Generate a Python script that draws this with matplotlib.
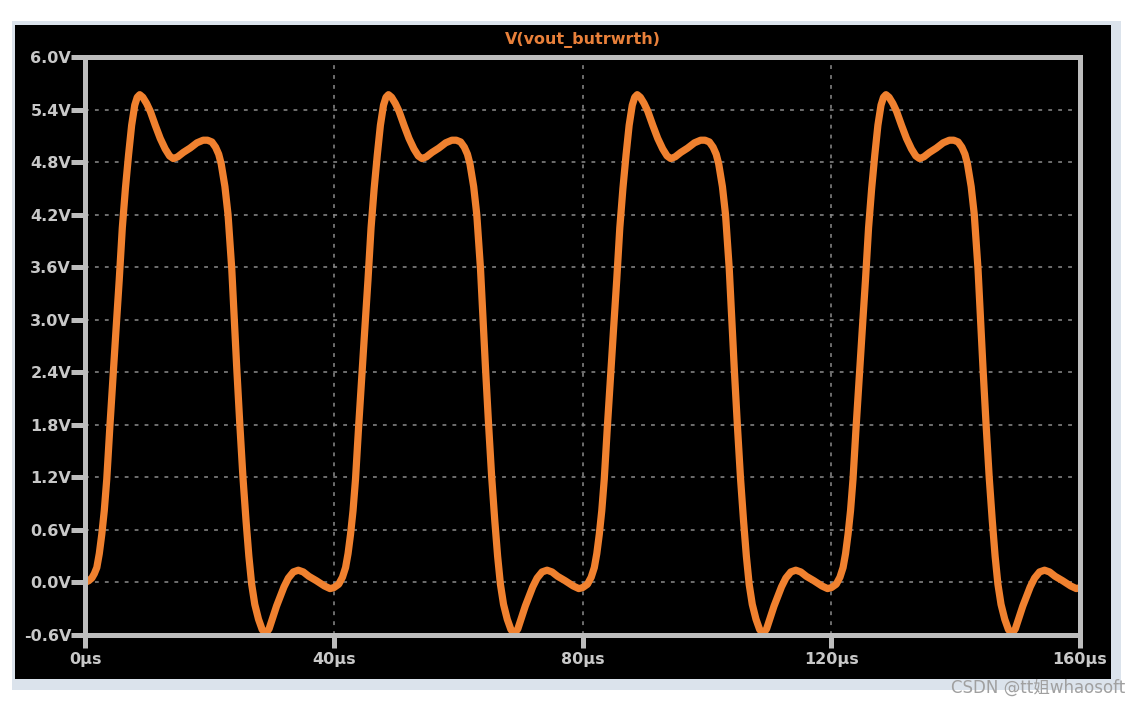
import numpy as np
import matplotlib.pyplot as plt
from matplotlib.patches import Rectangle

# one period of the waveform (µs, V)
t_cycle = [0.0, 0.8, 1.4, 1.9, 2.3, 2.7, 3.1, 3.5, 4.0, 4.5, 5.0, 5.5, 6.0, 6.5,
           7.0, 7.5, 8.0, 8.4, 8.8, 9.3, 9.9, 10.5, 11.3, 12.1, 12.9, 13.6, 14.2,
           14.9, 15.8, 16.9, 18.0, 19.0, 19.7, 20.4, 21.0, 21.5, 21.9, 22.5, 23.0,
           23.6, 24.0, 24.4, 24.9, 25.4, 25.9, 26.35, 26.8, 27.3, 27.9, 28.5, 29.1,
           29.6, 30.2, 30.8, 31.4, 32.0, 32.7, 33.5, 34.3, 35.1, 36.0, 37.2, 38.5,
           39.4]
v_cycle = [-0.06, -0.02, 0.06, 0.17, 0.33, 0.55, 0.82, 1.18, 1.78, 2.35, 2.90, 3.45,
           4.05, 4.50, 4.88, 5.22, 5.45, 5.54, 5.57, 5.54, 5.47, 5.38, 5.22, 5.07,
           4.95, 4.87, 4.84, 4.86, 4.91, 4.96, 5.02, 5.05, 5.05, 5.03, 4.97, 4.89,
           4.78, 4.52, 4.20, 3.58, 3.02, 2.45, 1.80, 1.20, 0.70, 0.30, -0.02, -0.25,
           -0.42, -0.54, -0.58, -0.53, -0.40, -0.27, -0.16, -0.05, 0.05, 0.12, 0.14,
           0.12, 0.07, 0.02, -0.04, -0.07]

# the very first rise starts flat from 0 V
t_start = [0.0, 0.6, 1.1, 1.5]
v_start = [0.0, 0.02, 0.05, 0.10]
t_end, v_end = 160.0, -0.06

period = 40.0
n_cycles = 4

x_ticks = [0, 40, 80, 120, 160]
x_labels = ['0µs', '40µs', '80µs', '120µs', '160µs']
y_ticks = [-0.6, 0.0, 0.6, 1.2, 1.8, 2.4, 3.0, 3.6, 4.2, 4.8, 5.4, 6.0]
y_labels = ['-0.6V', '0.0V', '0.6V', '1.2V', '1.8V', '2.4V', '3.0V', '3.6V',
            '4.2V', '4.8V', '5.4V', '6.0V']

# build the full trace from the repeated period
tc = np.array(t_cycle)
vc = np.array(v_cycle)
t_all = list(t_start)
v_all = list(v_start)
for k in range(n_cycles):
    sel = tc > 1.8 if k == 0 else tc >= 0
    t_all += list(tc[sel] + k * period)
    v_all += list(vc[sel])
t_all.append(t_end)
v_all.append(v_end)

W, H = 1140, 706
fig = plt.figure(figsize=(W / 100, H / 100), dpi=100)
fig.patch.set_facecolor('white')

# window frame and black plot pane
fig.patches.append(Rectangle((12 / W, 1 - 690 / H), (1121 - 12) / W, (690 - 21) / H,
                             transform=fig.transFigure, facecolor='#dbe3ec',
                             edgecolor='none', zorder=-2))
fig.patches.append(Rectangle((15 / W, 1 - 679 / H), (1111 - 15) / W, (679 - 25) / H,
                             transform=fig.transFigure, facecolor='black',
                             edgecolor='none', zorder=-1))

ax = fig.add_axes([85 / W, 1 - 635 / H, 995 / W, 578 / H])
ax.set_facecolor('black')
ax.plot(t_all, v_all, color='#f0812f', lw=5.2, solid_capstyle='round',
        solid_joinstyle='round', zorder=2.2)

ax.set_xlim(0, 160)
ax.set_ylim(-0.6, 6.0)
ax.set_xticks(x_ticks)
ax.set_xticklabels(x_labels)
ax.set_yticks(y_ticks)
ax.set_yticklabels(y_labels)

ax.grid(color='#8c8c8c', linestyle=(0, (2.5, 4)), linewidth=1.1)
for s in ax.spines.values():
    s.set_color('#bdbdbd')
    s.set_linewidth(3.6)

ax.tick_params(color='#bdbdbd', width=3.6, labelcolor='#c8c8c8')
ax.tick_params(axis='y', length=10, pad=0)
ax.tick_params(axis='x', length=9, pad=3)
for lab in ax.get_xticklabels() + ax.get_yticklabels():
    lab.set_fontweight('bold')
    lab.set_fontsize(11.5)

fig.text(582.5 / W, 1 - 40 / H, 'V(vout_butrwrth)', color='#e8803a',
         fontweight='bold', fontsize=11.5, ha='center', va='center')

fig.text(1125 / W, 1 - 688 / H, 'CSDN @tt姐whaosoft', ha='right', va='center',
         color='#a0a0a0', fontsize=12, family=['DejaVu Sans', 'Noto Sans CJK SC'])

fig.savefig('out.png', dpi=100, facecolor='white')
